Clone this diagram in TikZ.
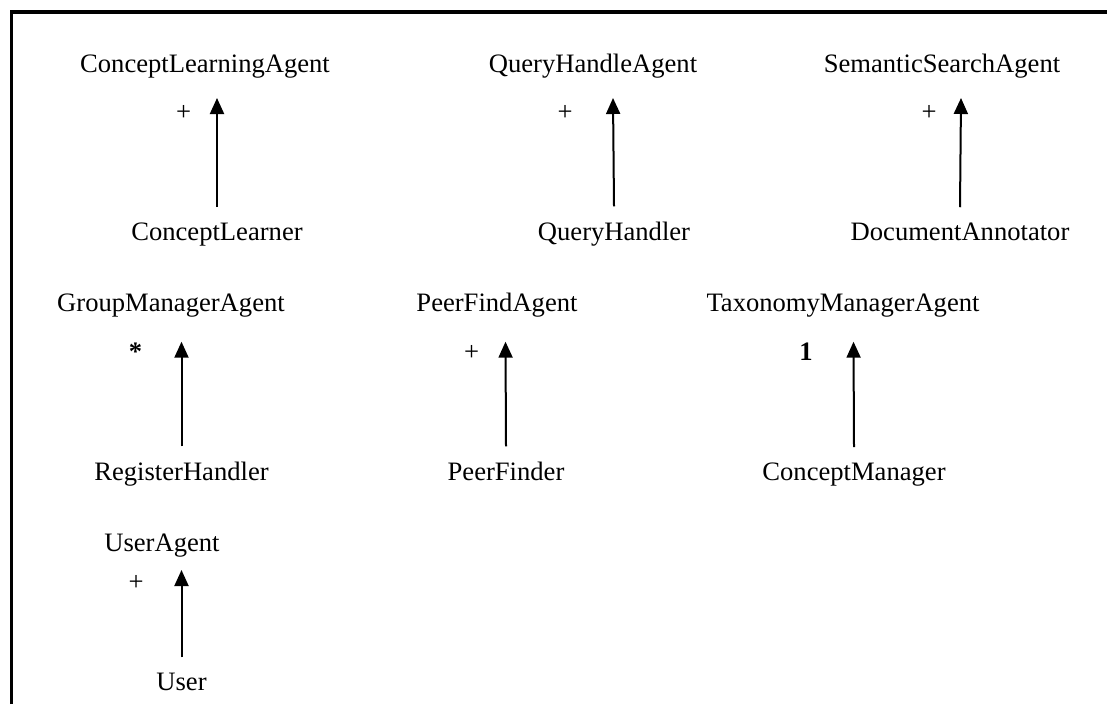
\documentclass[tikz,border=0pt]{standalone}
\usepackage{fontspec}
\setmainfont{Liberation Serif}
\usetikzlibrary{arrows.meta}
\begin{document}
\begin{tikzpicture}[x=1pt,y=-1pt,
  lbl/.style={inner sep=0pt, anchor=base, font=\fontsize{26.6}{30}\selectfont},
  mult/.style={inner sep=0pt, anchor=center, font=\fontsize{26.6}{30}\selectfont},
  arr/.style={line width=2pt, -{Triangle[width=14pt,length=16pt]}},
  frame/.style={line width=3.3pt}]
  \fill[white] (0,0) rectangle (1107,704);
  \useasboundingbox (0,0) rectangle (1107,704);
  % frame
  \draw[frame] (11.5,704) -- (11.5,12) -- (1107,12);

  % upper row: agents and their implementations
  \node[lbl] (cla) at (205,72) {ConceptLearningAgent};
  \node[lbl] (qha) at (593,72) {QueryHandleAgent};
  \node[lbl] (ssa) at (942,72) {SemanticSearchAgent};
  \node[lbl] (cl)  at (217,240) {ConceptLearner};
  \node[lbl] (qh)  at (614,240) {QueryHandler};
  \node[lbl] (da)  at (960,240) {DocumentAnnotator};

  % middle row
  \node[lbl] (gma) at (171,311.7) {GroupManagerAgent};
  \node[lbl] (pfa) at (497,311.7) {PeerFindAgent};
  \node[lbl] (tma) at (843,311.7) {TaxonomyManagerAgent};
  \node[lbl] (rh)  at (181.5,480) {RegisterHandler};
  \node[lbl] (pf)  at (506,480) {PeerFinder};
  \node[lbl] (cm)  at (854,480) {ConceptManager};

  % bottom row
  \node[lbl] (ua) at (162,551.7) {UserAgent};
  \node[lbl] (u)  at (181.5,690) {User};

  % arrow tips
  \coordinate (tcla) at (217,98);
  \coordinate (tqha) at (613,98);
  \coordinate (tssa) at (961,98);
  \coordinate (tgma) at (181.5,341.7);
  \coordinate (tpfa) at (505.5,341.7);
  \coordinate (ttma) at (853.5,341.7);
  \coordinate (tua)  at (181.5,570);

  \draw[arr] ([yshift=15pt]cl.north) -- (tcla);
  \draw[arr] ([yshift=15pt]qh.north) -- (tqha);
  \draw[arr] ([yshift=15pt]da.north) -- (tssa);
  \draw[arr] ([yshift=15pt]rh.north) -- (tgma);
  \draw[arr] ([yshift=15pt]pf.north) -- (tpfa);
  \draw[arr] ([yshift=15pt]cm.north) -- (ttma);
  \draw[arr] ([yshift=15pt]u.north)  -- (tua);

  % multiplicities
  \node[mult] (m1) at (183.5,113) {+};
  \node[mult] (m2) at (565,113) {+};
  \node[mult] (m3) at (929,113) {+};
  \node[mult,font=\fontsize{26.6}{30}\selectfont\bfseries] (m4) at (135.5,352) {*};
  \node[mult] (m5) at (471.6,352.7) {+};
  \node[mult,font=\fontsize{26.6}{30}\selectfont\bfseries] (m6) at (806,351.6) {1};
  \node[mult] (m7) at (136,583) {+};
\end{tikzpicture}
\end{document}
